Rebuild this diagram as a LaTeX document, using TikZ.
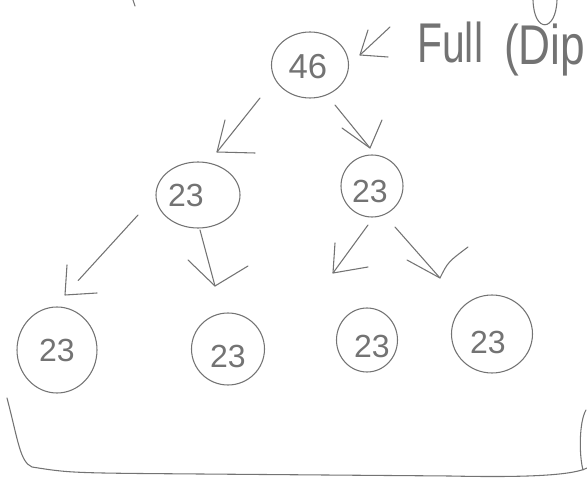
\documentclass[tikz,border=0pt]{standalone}
\usepackage{fontspec}
\setmainfont{Liberation Sans}
\usetikzlibrary{shapes.geometric,calc}
\definecolor{pencil}{gray}{0.45}
\newcommand\offtxt[3]{\raisebox{#2}[0pt][0pt]{\makebox[0pt]{\hspace*{#1}#3\hspace*{-#1}}}}
\begin{document}
\begin{tikzpicture}[x=0.75pt,y=-0.75pt,
  bubble/.style={draw=pencil, line width=0.8pt, ellipse, inner sep=0pt,
                 text=pencil, font=\fontsize{24}{24}\selectfont},
  hand/.style={draw=pencil, line width=0.8pt, line cap=round, line join=round},
  script/.style={text=pencil, inner sep=0pt, font=\fontsize{42}{42}\selectfont},
]
\useasboundingbox (0,0) rectangle (587,481);

% nodes
\node[bubble, minimum width=57.75pt, minimum height=49.5pt, font=\fontsize{26}{26}\selectfont]
  (n46) at (310,65) {\offtxt{-1.5pt}{-10pt}{46}};
\node[bubble, minimum width=63pt, minimum height=49.5pt]   (a)  at (198,195) {\offtxt{-9pt}{-8.6pt}{23}};
\node[bubble, minimum width=46.5pt, minimum height=46.5pt] (b)  at (372,186) {\offtxt{-1.5pt}{-12.3pt}{23}};
\node[bubble, minimum width=60pt, minimum height=64.5pt]   (c1) at (57,350)  {\offtxt{0pt}{-8.6pt}{23}};
\node[bubble, minimum width=54.75pt, minimum height=54pt]  (c2) at (228,349) {\offtxt{0pt}{-13.8pt}{23}};
\node[bubble, minimum width=45.75pt, minimum height=48pt]  (c3) at (367,340) {\offtxt{3.75pt}{-13.1pt}{23}};
\node[bubble, minimum width=60.75pt, minimum height=58.5pt] (c4) at (492,334) {\offtxt{-3pt}{-14.6pt}{23}};

% text at top right
\node[script, anchor=base west] (full) at (417,63) {\scalebox{0.73}[1]{Full}};
\node[script, anchor=base west] (dip)  at (504,65) {\scalebox{0.79}[1]{(Dip}};
\draw[hand] (533,0) .. controls (534,34) and (556,32) .. (557,0);
\draw[hand] (133,0) -- (135,6);

% arrow coordinates
\coordinate (A1s) at (260,98);  \coordinate (A1t) at (217,152);
\coordinate (A2s) at (335,105); \coordinate (A2t) at (370,148);
\coordinate (A3s) at (138,215); \coordinate (A3t) at (65,295);
\coordinate (A4s) at (200,230); \coordinate (A4t) at (215,286);
\coordinate (A5s) at (368,225); \coordinate (A5t) at (333,273);
\coordinate (A6s) at (395,227); \coordinate (A6t) at (440,278);
\coordinate (A7s) at (390,27);  \coordinate (A7t) at (360,55);

% arrows: shafts
\draw[hand] (A1s) -- (A1t);
\draw[hand] (A2s) -- (A2t);
\draw[hand] (A3s) -- ($(A3t)!0.18!(A3s)$);
\draw[hand] (A4s) -- (A4t);
\draw[hand] (A5s) -- (A5t);
\draw[hand] (A6s) -- (A6t);
\draw[hand] (A7s) -- (A7t);

% arrows: heads
\draw[hand] (A1t) ++(8,-32) -- (A1t) -- ++(38,1);
\draw[hand] (A2t) ++(-28,-20) -- (A2t) -- ++(12,-28);
\draw[hand] (A3t) ++(2,-30) -- (A3t) -- ++(32,-2);
\draw[hand] (A4t) ++(-27,-26) -- (A4t) -- ++(33,-20);
\draw[hand] (A5t) ++(2,-30) -- (A5t) -- ++(35,-6);
\draw[hand] (A6t) ++(-33,-18) -- (A6t) .. controls ++(8,-16) .. ++(28,-31);
\draw[hand] (A7t) ++(8,-25) -- (A7t) -- ++(28,2);

% bottom brace
\draw[hand] (7,398) .. controls (18,440) and (20,462) .. (32,467)
  .. controls (70,473) .. (200,474) -- (450,476)
  .. controls (540,478) and (575,474) .. (587,468);
\draw[hand] (586,410) .. controls (579,422) and (579,455) .. (583,470);
\end{tikzpicture}
\end{document}
